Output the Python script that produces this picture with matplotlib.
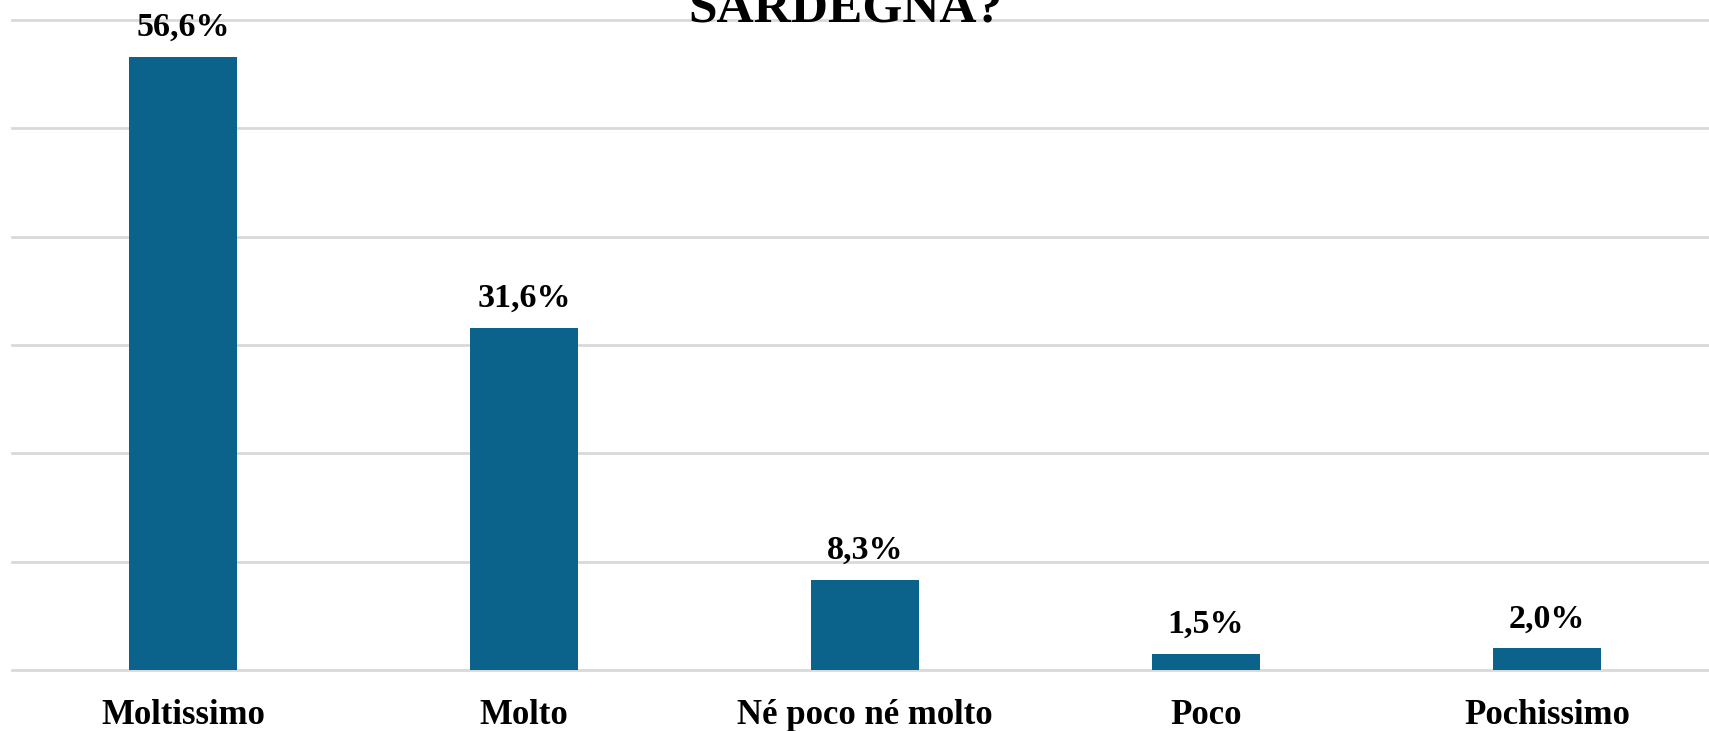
import numpy as np
import matplotlib.pyplot as plt

# data
categories = ['Moltissimo', 'Molto', 'Né poco né molto', 'Poco', 'Pochissimo']
values = [56.6, 31.6, 8.3, 1.5, 2.0]
title = 'SARDEGNA?'

bar_color = '#0B628B'
grid_color = '#D9D9D9'

plt.rcParams['font.family'] = ['Liberation Serif', 'DejaVu Serif']
plt.rcParams['font.weight'] = 'bold'

fig = plt.figure(figsize=(17.09, 7.31), dpi=100)
ax = fig.add_axes([0.0073, 0.08345, 0.9977, 0.8892])

x = np.arange(len(categories))
ax.bar(x, values, width=0.314, color=bar_color, zorder=3)

for xi, v in zip(x, values):
    ax.annotate(f'{v:.1f}%'.replace('.', ','), (xi, v), xytext=(0, 15),
                textcoords='offset points', ha='center', va='baseline',
                fontsize=24.5, fontweight='bold', zorder=4)

ax.set_xlim(-0.5, len(categories) - 0.5)
ax.set_ylim(0, 60)
ax.set_yticks(np.arange(0, 61, 10))
ax.yaxis.grid(True, color=grid_color, linewidth=2, zorder=0)
for gl in ax.get_ygridlines():
    gl.set_clip_on(False)
ax.tick_params(axis='y', left=False, labelleft=False)
ax.set_xticks(x)
ax.set_xticklabels(categories, fontsize=25, fontweight='bold')
ax.tick_params(axis='x', length=0, pad=21)
for s in ax.spines.values():
    s.set_visible(False)

fig.text(845 / 1709, 1 - 21 / 731, title, ha='center', va='baseline',
         fontsize=37, fontweight='bold')

fig.savefig('out.png', dpi=100)
